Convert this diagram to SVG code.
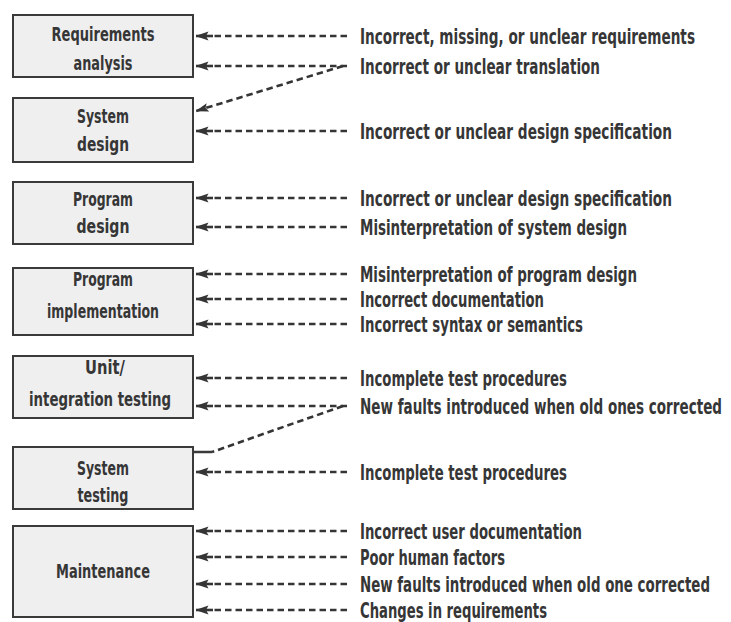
<svg xmlns="http://www.w3.org/2000/svg" width="731" height="622" viewBox="0 0 731 622">
  <defs>
    <style>
      .box { fill: #efeff0; stroke: #3a3a3a; stroke-width: 2; }
      .name { font-family: "DejaVu Sans Condensed", "Liberation Sans", sans-serif; font-size: 19.5px; font-weight: bold; fill: #363636; text-anchor: middle; }
      .fault { font-family: "DejaVu Sans Condensed", "Liberation Sans", sans-serif; font-size: 20.5px; font-weight: bold; fill: #363636; }
      .dash { fill: none; stroke: #353535; stroke-width: 2.6; stroke-dasharray: 6.5 4; }
      .stem { fill: none; stroke: #353535; stroke-width: 2.6; }
      .stub { fill: none; stroke: #3a3a3a; stroke-width: 2.5; }
    </style>
    <marker id="head" viewBox="0 0 13 10" refX="12.5" refY="5" markerUnits="userSpaceOnUse" markerWidth="13" markerHeight="10" orient="auto">
      <path d="M13,5 L0,0.6 L2.5,5 L0,9.4 Z" fill="#353535"/>
    </marker>
  </defs>
  <rect width="731" height="622" fill="#ffffff"/>

  <!-- lifecycle phases -->
  <g id="requirements-analysis">
    <rect class="box" x="13" y="15" width="180" height="62"/>
    <text class="name" x="103" y="40.5" textLength="103" lengthAdjust="spacingAndGlyphs">Requirements</text>
    <text class="name" x="103" y="70" textLength="59" lengthAdjust="spacingAndGlyphs">analysis</text>
  </g>
  <g id="system-design">
    <rect class="box" x="13" y="98" width="180" height="64"/>
    <text class="name" x="103" y="122.5" textLength="52" lengthAdjust="spacingAndGlyphs">System</text>
    <text class="name" x="103" y="151" textLength="52" lengthAdjust="spacingAndGlyphs">design</text>
  </g>
  <g id="program-design">
    <rect class="box" x="13" y="182" width="180" height="62"/>
    <text class="name" x="103" y="205.5" textLength="60" lengthAdjust="spacingAndGlyphs">Program</text>
    <text class="name" x="103" y="233" textLength="53" lengthAdjust="spacingAndGlyphs">design</text>
  </g>
  <g id="program-implementation">
    <rect class="box" x="13" y="268" width="180" height="67"/>
    <text class="name" x="103" y="285.5" textLength="60" lengthAdjust="spacingAndGlyphs">Program</text>
    <text class="name" x="103" y="317.5" textLength="112" lengthAdjust="spacingAndGlyphs">implementation</text>
  </g>
  <g id="unit-integration-testing">
    <rect class="box" x="13" y="356" width="180" height="62"/>
    <text class="name" x="105" y="373.5" textLength="40" lengthAdjust="spacingAndGlyphs">Unit/</text>
    <text class="name" x="100" y="405.5" textLength="142" lengthAdjust="spacingAndGlyphs">integration testing</text>
  </g>
  <g id="system-testing">
    <rect class="box" x="13" y="447" width="180" height="62"/>
    <text class="name" x="103" y="474.5" textLength="52" lengthAdjust="spacingAndGlyphs">System</text>
    <text class="name" x="103" y="502" textLength="51" lengthAdjust="spacingAndGlyphs">testing</text>
  </g>
  <g id="maintenance">
    <rect class="box" x="13" y="526" width="180" height="91"/>
    <text class="name" x="103" y="577.5" textLength="94" lengthAdjust="spacingAndGlyphs">Maintenance</text>
  </g>

  <!-- fault sources pointing back at each phase: dashed run, solid stem, arrowhead at the box edge -->
  <g id="connectors">
    <path class="dash" d="M347,36H211 M347,66H211 M347,131H211 M347,198H211 M347,227H211 M347,274H211 M347,299H211 M347,324H211 M347,378H211 M347,406H211 M347,472H211 M347,531H211 M347,557H211 M347,584H211 M347,610H211"/>
    <line class="stem" x1="213" y1="36" x2="196" y2="36" marker-end="url(#head)"/>
    <line class="stem" x1="213" y1="66" x2="196" y2="66" marker-end="url(#head)"/>
    <line class="stem" x1="213" y1="131" x2="196" y2="131" marker-end="url(#head)"/>
    <line class="stem" x1="213" y1="198" x2="196" y2="198" marker-end="url(#head)"/>
    <line class="stem" x1="213" y1="227" x2="196" y2="227" marker-end="url(#head)"/>
    <line class="stem" x1="213" y1="274" x2="196" y2="274" marker-end="url(#head)"/>
    <line class="stem" x1="213" y1="299" x2="196" y2="299" marker-end="url(#head)"/>
    <line class="stem" x1="213" y1="324" x2="196" y2="324" marker-end="url(#head)"/>
    <line class="stem" x1="213" y1="378" x2="196" y2="378" marker-end="url(#head)"/>
    <line class="stem" x1="213" y1="406" x2="196" y2="406" marker-end="url(#head)"/>
    <line class="stem" x1="213" y1="472" x2="196" y2="472" marker-end="url(#head)"/>
    <line class="stem" x1="213" y1="531" x2="196" y2="531" marker-end="url(#head)"/>
    <line class="stem" x1="213" y1="557" x2="196" y2="557" marker-end="url(#head)"/>
    <line class="stem" x1="213" y1="584" x2="196" y2="584" marker-end="url(#head)"/>
    <line class="stem" x1="213" y1="610" x2="196" y2="610" marker-end="url(#head)"/>
    <line class="dash" x1="343" y1="66" x2="196" y2="111" marker-end="url(#head)"/>
    <line class="dash" x1="343" y1="406" x2="212" y2="452"/>
    <line class="stub" x1="193" y1="452" x2="212" y2="452"/>
  </g>

  <!-- fault labels -->
  <g id="fault-labels">
    <text class="fault" x="360" y="43.5" textLength="335" lengthAdjust="spacingAndGlyphs">Incorrect, missing, or unclear requirements</text>
    <text class="fault" x="360" y="73.5" textLength="240" lengthAdjust="spacingAndGlyphs">Incorrect or unclear translation</text>
    <text class="fault" x="360" y="138.5" textLength="312" lengthAdjust="spacingAndGlyphs">Incorrect or unclear design specification</text>
    <text class="fault" x="360" y="205.5" textLength="312" lengthAdjust="spacingAndGlyphs">Incorrect or unclear design specification</text>
    <text class="fault" x="360" y="234.5" textLength="267" lengthAdjust="spacingAndGlyphs">Misinterpretation of system design</text>
    <text class="fault" x="360" y="281.5" textLength="277" lengthAdjust="spacingAndGlyphs">Misinterpretation of program design</text>
    <text class="fault" x="360" y="306.5" textLength="184" lengthAdjust="spacingAndGlyphs">Incorrect documentation</text>
    <text class="fault" x="360" y="331.5" textLength="223" lengthAdjust="spacingAndGlyphs">Incorrect syntax or semantics</text>
    <text class="fault" x="360" y="385.5" textLength="207" lengthAdjust="spacingAndGlyphs">Incomplete test procedures</text>
    <text class="fault" x="360" y="413.5" textLength="362" lengthAdjust="spacingAndGlyphs">New faults introduced when old ones corrected</text>
    <text class="fault" x="360" y="479.5" textLength="207" lengthAdjust="spacingAndGlyphs">Incomplete test procedures</text>
    <text class="fault" x="360" y="538.5" textLength="222" lengthAdjust="spacingAndGlyphs">Incorrect user documentation</text>
    <text class="fault" x="360" y="564.5" textLength="145" lengthAdjust="spacingAndGlyphs">Poor human factors</text>
    <text class="fault" x="360" y="591.5" textLength="350" lengthAdjust="spacingAndGlyphs">New faults introduced when old one corrected</text>
    <text class="fault" x="360" y="617.5" textLength="187" lengthAdjust="spacingAndGlyphs">Changes in requirements</text>
  </g>
</svg>
